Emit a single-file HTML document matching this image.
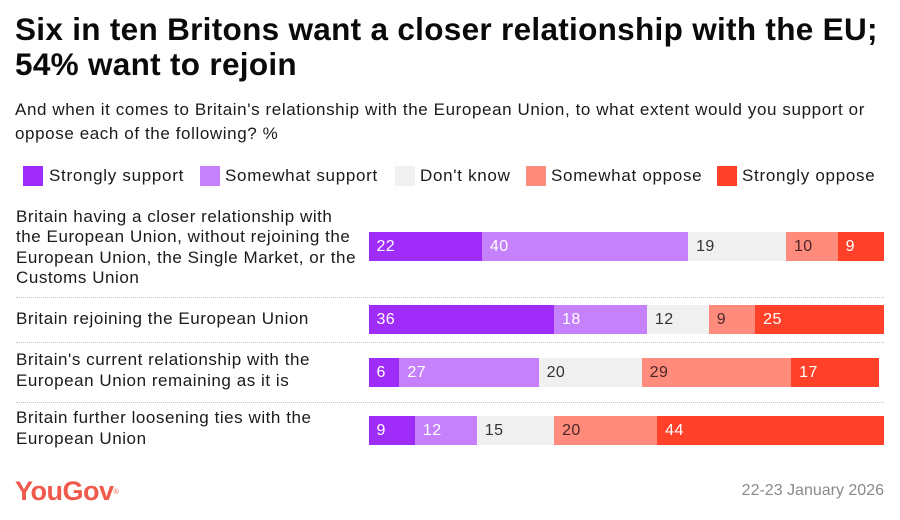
<!DOCTYPE html>
<html><head><meta charset="utf-8">
<style>
*{margin:0;padding:0;box-sizing:border-box}
html,body{width:900px;height:520px;background:#fff;overflow:hidden}
body{position:relative;font-family:"Liberation Sans",sans-serif;color:#1a1a1a}
.abs{position:absolute;white-space:nowrap}
.title{left:15px;top:12px;font-size:31.5px;line-height:35px;font-weight:bold;letter-spacing:0.3px;color:#0a0a0a}
.sub{left:15px;top:98px;font-size:17px;line-height:23.5px;letter-spacing:0.6px;color:#1a1a1a}
.sq{position:absolute;top:166px;width:20px;height:20px}
.lt{position:absolute;top:166px;font-size:17px;line-height:20px;letter-spacing:0.7px;white-space:nowrap;color:#1a1a1a}
.lab{position:absolute;left:16px;font-size:17px;line-height:20.5px;letter-spacing:0.55px;white-space:nowrap;color:#1a1a1a}
.dot{position:absolute;left:16px;width:868px;height:0;border-top:1px dotted #c4c4c4}
.bar{position:absolute;left:368.5px;height:29px;display:flex}
.bar div{height:29px;font-size:16px;line-height:29px;padding-left:8px;letter-spacing:0.4px;overflow:hidden;white-space:nowrap}
.s1{background:#a02cfa;color:#fff}
.s2{background:#c580fb;color:#fff}
.s3{background:#f0f0f0;color:#333}
.s4{background:#ff8b7d;color:#4a2626}
.s5{background:#ff4129;color:#fff}
</style></head><body>
<div class="abs title">Six in ten Britons want a closer relationship with the EU;<br>54% want to rejoin</div>
<div class="abs sub">And when it comes to Britain's relationship with the European Union, to what extent would you support or<br>oppose each of the following? %</div>

<div class="sq s1" style="left:23px"></div><div class="lt" style="left:49px">Strongly support</div>
<div class="sq s2" style="left:200px"></div><div class="lt" style="left:225px">Somewhat support</div>
<div class="sq s3" style="left:395px"></div><div class="lt" style="left:420px">Don't know</div>
<div class="sq s4" style="left:526px"></div><div class="lt" style="left:551px">Somewhat oppose</div>
<div class="sq s5" style="left:717px"></div><div class="lt" style="left:742px">Strongly oppose</div>

<div class="lab" style="top:206.6px">Britain having a closer relationship with<br>the European Union, without rejoining the<br>European Union, the Single Market, or the<br>Customs Union</div>
<div class="lab" style="top:309px">Britain rejoining the European Union</div>
<div class="lab" style="top:350px">Britain's current relationship with the<br>European Union remaining as it is</div>
<div class="lab" style="top:408px">Britain further loosening ties with the<br>European Union</div>

<div class="dot" style="top:297px"></div>
<div class="dot" style="top:342px"></div>
<div class="dot" style="top:402px"></div>

<div class="bar" style="top:232px">
<div class="s1" style="width:113.4px">22</div>
<div class="s2" style="width:206.2px">40</div>
<div class="s3" style="width:97.9px">19</div>
<div class="s4" style="width:51.6px">10</div>
<div class="s5" style="width:46.4px">9</div>
</div>
<div class="bar" style="top:305px">
<div class="s1" style="width:185.6px">36</div>
<div class="s2" style="width:92.8px">18</div>
<div class="s3" style="width:61.9px">12</div>
<div class="s4" style="width:46.4px">9</div>
<div class="s5" style="width:128.9px">25</div>
</div>
<div class="bar" style="top:358px">
<div class="s1" style="width:30.9px">6</div>
<div class="s2" style="width:139.2px">27</div>
<div class="s3" style="width:103.1px">20</div>
<div class="s4" style="width:149.5px">29</div>
<div class="s5" style="width:87.6px">17</div>
</div>
<div class="bar" style="top:416px">
<div class="s1" style="width:46.4px">9</div>
<div class="s2" style="width:61.9px">12</div>
<div class="s3" style="width:77.3px">15</div>
<div class="s4" style="width:103.1px">20</div>
<div class="s5" style="width:226.8px">44</div>
</div>

<div class="abs" style="left:15px;top:476px;font-size:27px;line-height:30px;font-weight:bold;letter-spacing:-0.5px;color:#ef5a4c">YouGov<span style="font-size:7px;vertical-align:top;font-weight:normal;position:relative;top:2px">®</span></div>
<div class="abs" style="right:16px;top:482px;font-size:16px;line-height:18px;color:#8a8a8a">22-23 January 2026</div>
</body></html>
